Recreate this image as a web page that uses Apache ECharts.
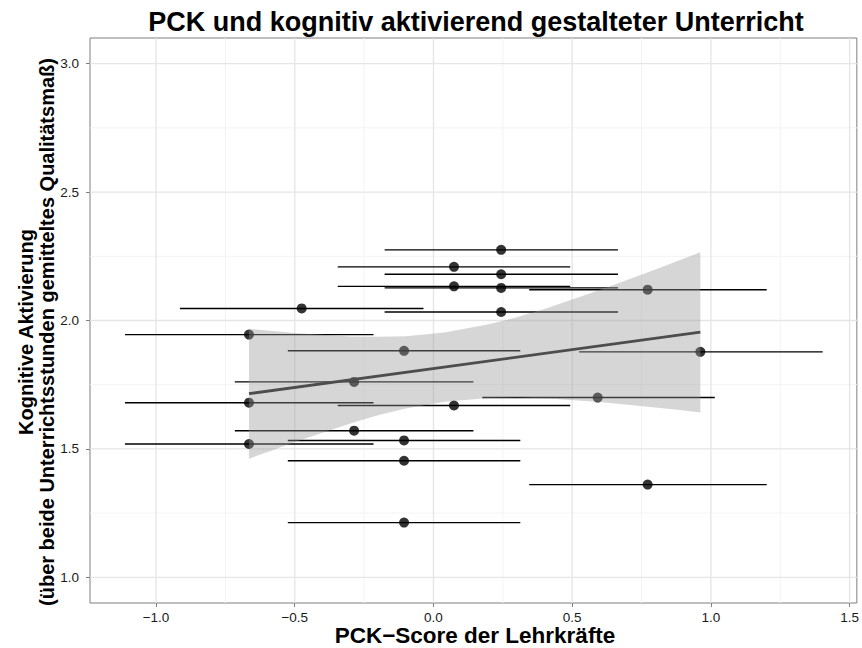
<!DOCTYPE html>
<html>
<head>
<meta charset="utf-8">
<script src="https://cdn.jsdelivr.net/npm/echarts@6/dist/echarts.min.js"></script>
<style>html,body{margin:0;padding:0;background:#fff;}#c{width:862px;height:648px;}</style>
</head>
<body>
<div id="c"></div>
<script>
// ---- data ----
const pckScore = [0.244, 0.074, 0.244, 0.074, 0.244, 0.772, -0.475, 0.244, -0.665, -0.106, 0.962,
                  -0.286, 0.592, -0.665, 0.074, -0.286, -0.106, -0.665, -0.106, 0.772, -0.106];
const aktivierung = [2.275, 2.209, 2.180, 2.133, 2.127, 2.120, 2.047, 2.033, 1.945, 1.882, 1.878,
                     1.761, 1.700, 1.680, 1.669, 1.571, 1.533, 1.519, 1.454, 1.361, 1.213];
const pckLow  = [-0.176, -0.345, -0.176, -0.345, -0.176, 0.345, -0.914, -0.176, -1.112, -0.525, 0.525,
                 -0.716, 0.176, -1.112, -0.345, -0.716, -0.525, -1.112, -0.525, 0.345, -0.525];
const pckHigh = [0.665, 0.493, 0.665, 0.493, 0.665, 1.201, -0.036, 0.665, -0.216, 0.313, 1.403,
                 0.144, 1.014, -0.216, 0.493, 0.144, 0.313, -0.216, 0.313, 1.201, 0.313];
const fitX = [-0.665, 0.962];
const fitY = [1.715, 1.955];
const bandX     = [-0.665, -0.58, -0.5, -0.3, -0.2, -0.1, 0.04, 0.2, 0.3, 0.4, 0.6, 0.8, 0.88, 0.962];
const bandLower = [1.462, 1.495, 1.527, 1.599, 1.631, 1.657, 1.684, 1.698, 1.700, 1.697, 1.683, 1.661, 1.652, 1.642];
const bandUpper = [1.968, 1.959, 1.951, 1.938, 1.937, 1.939, 1.953, 1.985, 2.013, 2.045, 2.119, 2.199, 2.232, 2.266];
const xMajor = [-1.0, -0.5, 0.0, 0.5, 1.0, 1.5];
const xMinor = [-0.75, -0.25, 0.25, 0.75, 1.25];
const yMajor = [1.0, 1.5, 2.0, 2.5, 3.0];
const yMinor = [1.25, 1.75, 2.25, 2.75];

const FONT = '"Liberation Sans", Arial, Helvetica, sans-serif';
const X_MIN = -1.238, X_MAX = 1.526, Y_MIN = 0.9, Y_MAX = 3.1;

const chart = echarts.init(document.getElementById('c'), null, {renderer: 'svg'});

const fmt = v => v.toFixed(1).replace('-', '\u2212');

const gridItems = [];
xMinor.forEach(v => gridItems.push({d: 'x', v: v, major: false}));
yMinor.forEach(v => gridItems.push({d: 'y', v: v, major: false}));
xMajor.forEach(v => gridItems.push({d: 'x', v: v, major: true}));
yMajor.forEach(v => gridItems.push({d: 'y', v: v, major: true}));

const option = {
  animation: false,
  backgroundColor: '#ffffff',
  grid: {left: 90, right: 4, top: 38, bottom: 45, show: true, borderColor: '#7f7f7f', borderWidth: 1, backgroundColor: 'transparent'},
  xAxis: {
    type: 'value', min: X_MIN, max: X_MAX,
    axisLine: {show: false, onZero: false},
    splitLine: {show: false},
    axisTick: {show: true, customValues: xMajor, length: 4, lineStyle: {color: '#7f7f7f', width: 1}},
    axisLabel: {customValues: xMajor, formatter: fmt, color: '#1a1a1a', fontSize: 13.5, fontFamily: FONT, margin: 7}
  },
  yAxis: {
    type: 'value', min: Y_MIN, max: Y_MAX,
    axisLine: {show: false, onZero: false},
    splitLine: {show: false},
    axisTick: {show: true, customValues: yMajor, length: 4, lineStyle: {color: '#7f7f7f', width: 1}},
    axisLabel: {customValues: yMajor, formatter: fmt, color: '#1a1a1a', fontSize: 13.5, fontFamily: FONT, margin: 11}
  },
  graphic: [
    {type: 'text', x: 476, y: 22.3, style: {text: 'PCK und kognitiv aktivierend gestalteter Unterricht', font: 'bold 27px ' + FONT, fill: '#000', textAlign: 'center', textVerticalAlign: 'middle'}},
    {type: 'text', x: 475, y: 635.5, style: {text: 'PCK\u2212Score der Lehrkr\u00e4fte', font: 'bold 22.5px ' + FONT, fill: '#000', textAlign: 'center', textVerticalAlign: 'middle'}},
    {type: 'text', x: 26, y: 332, rotation: Math.PI / 2, style: {text: 'Kognitive Aktivierung', font: 'bold 20px ' + FONT, fill: '#000', textAlign: 'center', textVerticalAlign: 'middle'}},
    {type: 'text', x: 47, y: 332, rotation: Math.PI / 2, style: {text: '(\u00fcber beide Unterrichtsstunden gemitteltes Qualit\u00e4tsma\u00df)', font: 'bold 20px ' + FONT, fill: '#000', textAlign: 'center', textVerticalAlign: 'middle'}}
  ],
  series: [
    {
      type: 'custom', z: 1, silent: true,
      data: gridItems.map((g, i) => [i]),
      renderItem: function (params, api) {
        const g = gridItems[params.dataIndex];
        let p1, p2;
        if (g.d === 'x') { p1 = api.coord([g.v, Y_MIN]); p2 = api.coord([g.v, Y_MAX]); }
        else { p1 = api.coord([X_MIN, g.v]); p2 = api.coord([X_MAX, g.v]); }
        return {type: 'line', shape: {x1: p1[0], y1: p1[1], x2: p2[0], y2: p2[1]},
                style: {stroke: g.major ? '#e5e5e5' : '#f3f3f3', lineWidth: g.major ? 1.3 : 1}};
      }
    },
    {
      type: 'custom', z: 2, silent: true,
      data: aktivierung.map((y, i) => [pckLow[i], pckHigh[i], y]),
      encode: {x: [0, 1], y: 2},
      renderItem: function (params, api) {
        const a = api.coord([api.value(0), api.value(2)]);
        const b = api.coord([api.value(1), api.value(2)]);
        return {type: 'line', shape: {x1: a[0], y1: a[1], x2: b[0], y2: b[1]}, style: {stroke: '#000', lineWidth: 1.4}};
      }
    },
    {
      type: 'scatter', z: 3, silent: true,
      data: aktivierung.map((y, i) => [pckScore[i], y]),
      symbol: 'circle', symbolSize: 10,
      itemStyle: {color: '#000'}
    },
    {
      type: 'custom', z: 4, silent: true,
      data: [[0]],
      renderItem: function (params, api) {
        const pts = [];
        for (let i = 0; i < bandX.length; i++) pts.push(api.coord([bandX[i], bandUpper[i]]));
        for (let i = bandX.length - 1; i >= 0; i--) pts.push(api.coord([bandX[i], bandLower[i]]));
        return {type: 'polygon', shape: {points: pts}, style: {fill: 'rgba(153,153,153,0.4)', stroke: null}};
      }
    },
    {
      type: 'line', z: 5, silent: true,
      data: fitX.map((x, i) => [x, fitY[i]]),
      symbol: 'none',
      lineStyle: {color: '#4d4d4d', width: 2.8}
    }
  ]
};
chart.setOption(option);
</script>
</body>
</html>
